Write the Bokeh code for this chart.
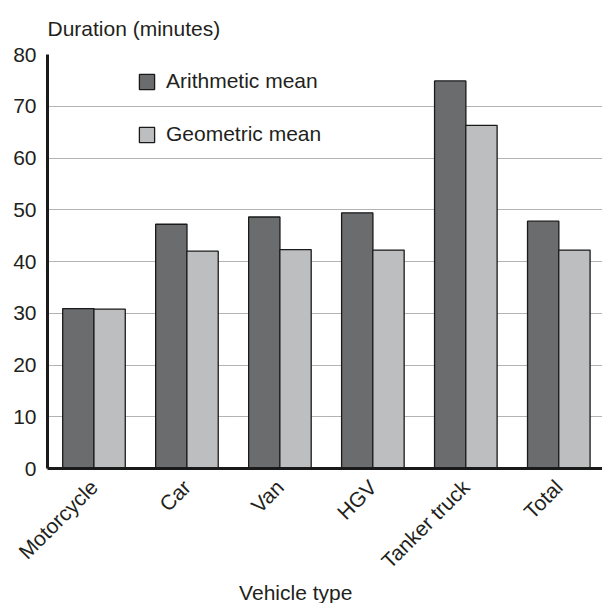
import math
from bokeh.plotting import figure
from bokeh.models import (Range1d, FixedTicker, Legend, LegendItem, Title,
                          ColumnDataSource)
from bokeh.transform import dodge
from bokeh.embed import file_html
from bokeh.resources import INLINE

categories = ["Motorcycle", "Car", "Van", "HGV", "Tanker truck", "Total"]
arithmetic_mean = [30.9, 47.2, 48.6, 49.4, 74.9, 47.8]
geometric_mean = [30.8, 42.0, 42.3, 42.2, 66.3, 42.2]
y_ticks = [0, 10, 20, 30, 40, 50, 60, 70, 80]

FONT = "Liberation Sans"
TXT = "#231f20"
DARK = "#6b6c6e"
LIGHT = "#bdbec0"

xs = list(range(len(categories)))
src = ColumnDataSource(dict(x=xs, am=arithmetic_mean, gm=geometric_mean))

p = figure(width=602, height=603, output_backend="svg", toolbar_location=None,
           x_range=Range1d(-0.5, 5.47), y_range=Range1d(0, 80),
           min_border_left=47, min_border_top=54, min_border_bottom=135,
           min_border_right=0)
p.outline_line_color = None
p.background_fill_color = "white"

w = 0.337
r1 = p.vbar(x=dodge("x", -0.168), top="am", width=w, source=src,
            fill_color=DARK, line_color="#1a1a1a", line_width=1.3)
r2 = p.vbar(x=dodge("x", 0.168), top="gm", width=w, source=src,
            fill_color=LIGHT, line_color="#1a1a1a", line_width=1.3)

p.xgrid.visible = False
p.ygrid.ticker = FixedTicker(ticks=y_ticks[1:])
p.ygrid.grid_line_color = "#666666"
p.ygrid.grid_line_dash = "1 1"
p.ygrid.grid_line_width = 1

xa = p.xaxis[0]
xa.ticker = FixedTicker(ticks=xs)
xa.major_label_overrides = {i: c for i, c in enumerate(categories)}
xa.major_label_orientation = math.pi / 4
xa.major_label_text_font = FONT
xa.major_label_text_font_size = "21px"
xa.major_label_text_color = TXT
xa.major_tick_line_color = None
xa.minor_tick_line_color = None
xa.major_tick_out = 0
xa.major_tick_in = 0
xa.axis_line_color = "#1a1a1a"
xa.axis_line_width = 3
xa.major_label_standoff = 15

ya = p.yaxis[0]
ya.ticker = FixedTicker(ticks=y_ticks)
ya.major_label_text_font = FONT
ya.major_label_text_font_size = "21px"
ya.major_label_text_color = TXT
ya.major_tick_line_color = None
ya.minor_tick_line_color = None
ya.major_tick_out = 0
ya.major_tick_in = 0
ya.axis_line_color = "#1a1a1a"
ya.axis_line_width = 3
ya.major_label_standoff = 11

p.title.text = "Duration (minutes)"
p.title.text_font = FONT
p.title.text_font_size = "21px"
p.title.text_font_style = "normal"
p.title.text_color = TXT
p.title.align = "left"
p.title.standoff = 29

xt = Title(text="Vehicle type", text_font=FONT, text_font_size="21px",
           text_font_style="normal", text_color=TXT, align="left",
           offset=191.6, standoff=-10)
p.add_layout(xt, "below")

legend = Legend(items=[LegendItem(label="Arithmetic mean", renderers=[r1]),
                       LegendItem(label="Geometric mean", renderers=[r2])],
                location=(90, 322), padding=0, margin=0, spacing=29,
                glyph_width=19, glyph_height=19, label_height=24,
                label_standoff=10, label_text_font=FONT,
                label_text_font_size="21px", label_text_color=TXT,
                border_line_color=None, background_fill_alpha=0)
p.add_layout(legend, "center")

open("out.html", "w").write(file_html(p, INLINE))
